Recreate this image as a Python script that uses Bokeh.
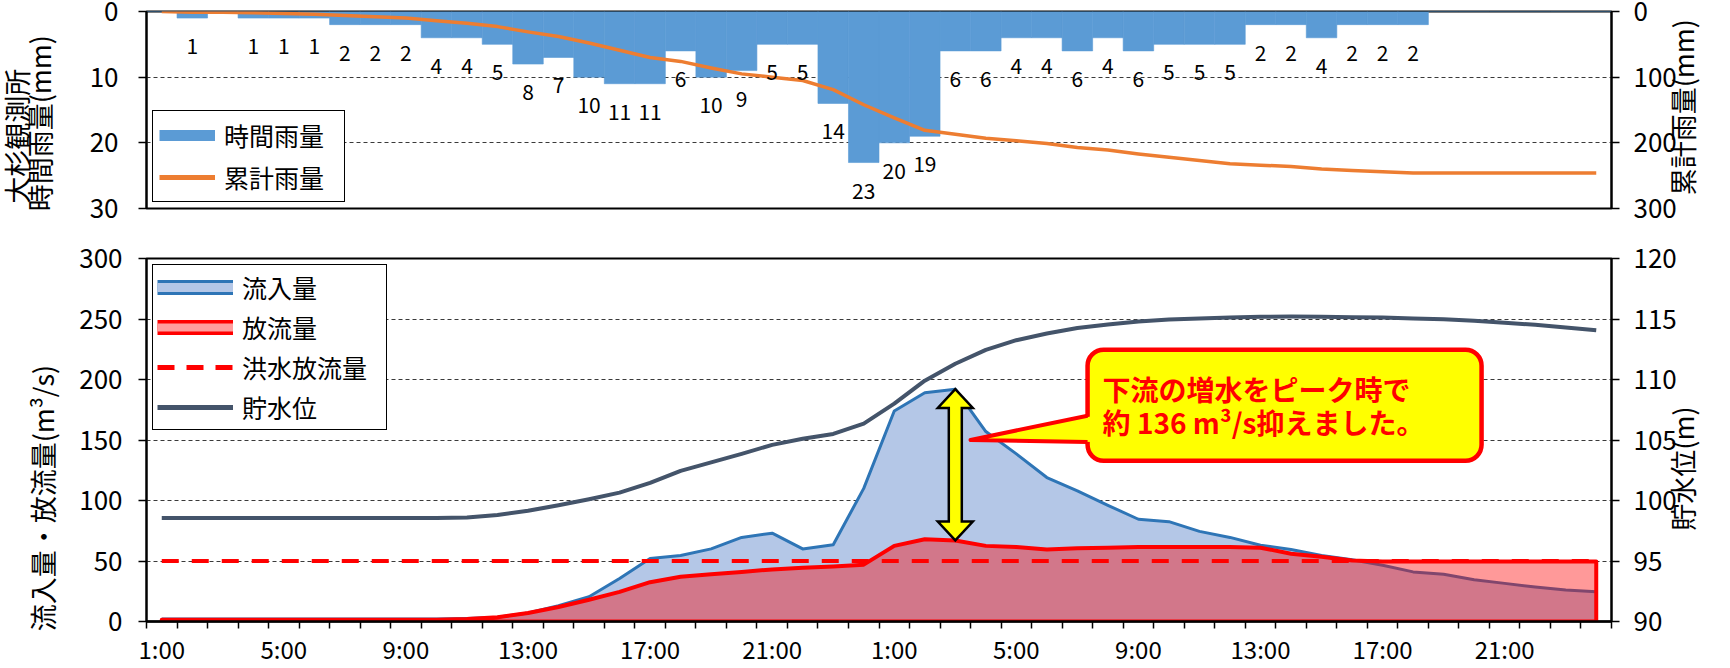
import math
from bokeh.plotting import figure
from bokeh.models import (Range1d, LinearAxis, FixedTicker, ColumnDataSource,
                          LabelSet, Legend, LegendItem, BoxAnnotation, Label)
from bokeh.layouts import column
from bokeh.embed import file_html
from bokeh.resources import INLINE
from bokeh.core.properties import value

FONT = "Noto Sans CJK JP"
NAN = float("nan")

# ---------------- data ----------------
hour_index = list(range(48))          # hourly categories, 1:00 day1 ... 24:00 day2
time_tick_pos = [0, 4, 8, 12, 16, 20, 24, 28, 32, 36, 40, 44]
time_tick_labels = ["1:00", "5:00", "9:00", "13:00", "17:00", "21:00",
                    "1:00", "5:00", "9:00", "13:00", "17:00", "21:00"]

rain_hourly = [0, 1, 0, 1, 1, 1, 2, 2, 2, 4,
               4, 5, 8, 7, 10, 11, 11, 6, 10, 9,
               5, 5, 14, 23, 20, 19, 6, 6, 4, 4,
               6, 4, 6, 5, 5, 5, 2, 2, 4, 2,
               2, 2, 0, 0, 0, 0, 0, 0]
rain_cumulative = [0, 1, 1, 2, 3, 4, 6, 8, 10, 14,
                   18, 23, 31, 38, 48, 59, 70, 76, 86, 95,
                   100, 105, 119, 142, 162, 181, 187, 193, 197, 201,
                   207, 211, 217, 222, 227, 232, 234, 236, 240, 242,
                   244, 246, 246, 246, 246, 246, 246, 246]
inflow = [2, 2, 2, 2, 2, 2, 2, 2, 2, 2,
          2.5, 3.5, 7, 13, 20.5, 35.5, 52, 54.5, 60, 69.5,
          73, 60, 63.5, 110, 174, 189, 192, 157, 138.5, 119,
          108, 96, 84.5, 82.5, 74.5, 69.5, 63, 59.5, 54.5, 51,
          46.5, 41, 39, 34.5, 31.5, 28.5, 26, 24.5]
outflow = [1.5, 1.5, 1.5, 1.5, 1.5, 1.5, 1.5, 1.5, 1.5, 1.5,
           2, 3.5, 7, 12, 18, 24.5, 32.5, 37, 39, 41,
           43, 44.5, 45.5, 47, 62.5, 68, 67, 62.5, 61.5, 59.5,
           60.5, 61, 61.5, 61.5, 61.5, 61.5, 61, 56, 53.5, 50.5,
           49.5, 49.5, 49.5, 49.5, 49.5, 49.5, 49.5, 49.5]
flood_discharge = 50
water_level = [98.55, 98.55, 98.55, 98.55, 98.55, 98.55, 98.55, 98.55, 98.55, 98.55,
               98.6, 98.8, 99.15, 99.6, 100.1, 100.65, 101.45, 102.45, 103.15, 103.85,
               104.6, 105.1, 105.5, 106.35, 108.0, 109.9, 111.3, 112.45, 113.25, 113.8,
               114.25, 114.55, 114.8, 114.95, 115.05, 115.12, 115.18, 115.2, 115.18, 115.15,
               115.12, 115.05, 114.97, 114.85, 114.7, 114.52, 114.3, 114.07]

# axis titles
rain_titles = ["大杉観測所", "時間雨量(mm)"]
cum_title = "累計雨量(mm)"
flow_title = "流入量・放流量(m³/s)"
level_title = "貯水位(m)"

# ---------------- layout constants ----------------
FRAME_W = 1465
PAGE_FRAME_LEFT = 146
BL, BR = 172, 119            # canvas borders; the layout is shifted left so the frame sits at x=146
W = BL + FRAME_W + BR
XPX = FRAME_W / 48.0
H1, H2 = 233, 435
P1_TOP, P1_BOT = 11, 25
P2_TOP, P2_BOT = 25, 44
P2_FH = H2 - P2_TOP - P2_BOT
YPX = P2_FH / 300.0


def style_axis(ax, size="26px", standoff=16):
    ax.axis_line_color = "black"
    ax.axis_line_width = 2
    ax.major_tick_line_color = "black"
    ax.major_tick_line_width = 1.5
    ax.major_tick_out = 8
    ax.major_tick_in = 0
    ax.minor_tick_line_color = None
    ax.major_label_text_font = FONT
    ax.major_label_text_font_size = size
    ax.major_label_text_color = "black"
    ax.major_label_standoff = standoff


def title_axis(p, side, text, pos, standoff, size="27px"):
    """An axis with no line and no ticks whose single label is a rotated title."""
    ax = LinearAxis(ticker=FixedTicker(ticks=[pos]))
    ax.major_label_overrides = {pos: text}
    ax.axis_line_color = None
    ax.major_tick_line_color = None
    ax.minor_tick_line_color = None
    ax.major_tick_out = 0
    ax.major_tick_in = 0
    ax.minor_tick_out = 0
    ax.major_label_standoff = standoff
    ax.major_label_orientation = "vertical" if side == "left" else math.pi / 2
    ax.major_label_text_font = FONT
    ax.major_label_text_font_size = size
    ax.major_label_text_color = "black"
    p.add_layout(ax, side)
    return ax


def style_grid(g):
    g.grid_line_color = "#3a3a3a"
    g.grid_line_dash = "4 3"
    g.grid_line_width = 1


def style_legend(lg, gw, lw):
    lg.label_text_font = FONT
    lg.label_text_font_size = "25px"
    lg.label_text_color = "black"
    lg.glyph_width = gw
    lg.glyph_height = 20
    lg.label_height = 20
    lg.label_width = lw
    lg.label_standoff = 9
    lg.border_line_color = "black"
    lg.border_line_width = 1.5
    lg.border_line_alpha = 1
    lg.background_fill_color = "white"
    lg.background_fill_alpha = 1


# ================= top chart: rainfall =================
p1 = figure(width=W, height=H1, x_range=Range1d(-0.5, 47.5), y_range=Range1d(30, 0),
            x_axis_location=None, output_backend="svg", toolbar_location=None,
            min_border_left=BL, min_border_right=BR, min_border_top=P1_TOP,
            min_border_bottom=P1_BOT,
            background_fill_color="white", border_fill_color="white")
p1.outline_line_color = "black"
p1.outline_line_width = 2
p1.outline_line_alpha = 1
p1.xgrid.visible = False
p1.yaxis.ticker = FixedTicker(ticks=[0, 10, 20, 30])
p1.ygrid.ticker = FixedTicker(ticks=[0, 10, 20, 30])
style_grid(p1.ygrid)
style_axis(p1.yaxis[0], standoff=20)
title_axis(p1, "left", rain_titles[1], 17, 27)
title_axis(p1, "left", rain_titles[0], 19, -19)

p1.extra_y_ranges = {"cum": Range1d(300, 0)}
ax1r = LinearAxis(y_range_name="cum", ticker=FixedTicker(ticks=[0, 100, 200, 300]))
style_axis(ax1r, standoff=14)
p1.add_layout(ax1r, "right")
title_axis(p1, "right", cum_title, 28, 3)

p1.vbar(x=hour_index, top=0, bottom=rain_hourly, width=1.0,
        fill_color="#5B9BD5", line_color="#5B9BD5", line_width=0.6)

lab_x = [i for i, v in zip(hour_index, rain_hourly) if v > 0]
lab_y = [v for v in rain_hourly if v > 0]
lab_t = [str(v) for v in rain_hourly if v > 0]
lab_src = ColumnDataSource(dict(x=lab_x, y=lab_y, t=lab_t))
p1.add_layout(LabelSet(source=lab_src, x="x", y="y", text="t", y_offset=-28,
                       text_align="center", text_baseline="middle",
                       text_font=value(FONT), text_font_size=value("21px"),
                       text_color="black"))

p1.line(hour_index, rain_cumulative, y_range_name="cum", line_color="#ED7D31",
        line_width=3.5, line_join="round")

# legend proxies (a single NaN point: nothing is drawn in the plot)
pr_bar = p1.line(x=[0], y=[NAN], line_color="#5B9BD5", line_width=11)
pr_cum = p1.line(x=[0], y=[NAN], line_color="#ED7D31", line_width=5)
leg1 = Legend(items=[LegendItem(label="時間雨量", renderers=[pr_bar]),
                     LegendItem(label="累計雨量", renderers=[pr_cum])],
              location="bottom_left", margin=6, padding=6, spacing=6)
style_legend(leg1, 56, 114)
p1.add_layout(leg1)

# ================= bottom chart: dam =================
p2 = figure(width=W, height=H2, x_range=Range1d(-0.5, 47.5), y_range=Range1d(0, 300),
            output_backend="svg", toolbar_location=None,
            min_border_left=BL, min_border_right=BR, min_border_top=P2_TOP,
            min_border_bottom=P2_BOT,
            background_fill_color="white", border_fill_color="white")
p2.outline_line_color = "black"
p2.outline_line_width = 2
p2.outline_line_alpha = 1
p2.xgrid.visible = False
q_ticks = [0, 50, 100, 150, 200, 250, 300]
p2.yaxis.ticker = FixedTicker(ticks=q_ticks)
p2.ygrid.ticker = FixedTicker(ticks=q_ticks)
style_grid(p2.ygrid)
style_axis(p2.yaxis[0])
title_axis(p2, "left", flow_title, 102, 14)

xa = p2.xaxis[0]
xa.ticker = FixedTicker(ticks=time_tick_pos, minor_ticks=[k - 0.5 for k in range(49)])
xa.major_label_overrides = {pos: lab for pos, lab in zip(time_tick_pos, time_tick_labels)}
xa.axis_line_color = "black"
xa.axis_line_width = 2.5
xa.major_tick_out = 0
xa.major_tick_in = 0
xa.major_tick_line_color = None
xa.minor_tick_out = 7
xa.minor_tick_in = 0
xa.minor_tick_line_color = "black"
xa.minor_tick_line_width = 1.5
xa.major_label_text_font = FONT
xa.major_label_text_font_size = "24px"
xa.major_label_text_color = "black"
xa.major_label_standoff = 2

p2.extra_y_ranges = {"wl": Range1d(90, 120)}
ax2r = LinearAxis(y_range_name="wl", ticker=FixedTicker(ticks=[90, 95, 100, 105, 110, 115, 120]))
style_axis(ax2r, standoff=14)
p2.add_layout(ax2r, "right")
title_axis(p2, "right", level_title, 75, 3)

# inflow area + line
p2.varea(x=hour_index, y1=0, y2=inflow, fill_color="#B4C7E7", fill_alpha=1)
p2.line(hour_index, inflow, line_color="#2E75B6", line_width=3, line_join="round")
# outflow area (semi transparent red) with outline
p2.patch(x=hour_index + [hour_index[-1], hour_index[0]], y=outflow + [0, 0],
         fill_color="#FF0000", fill_alpha=0.4, line_color="#FF0000", line_width=4,
         line_join="round")
# flood discharge
p2.line([hour_index[0], hour_index[-1]], [flood_discharge, flood_discharge],
        line_color="#FF0000", line_width=4, line_dash="17 13")
# water level
p2.line(hour_index, water_level, y_range_name="wl", line_color="#44546A",
        line_width=4, line_join="round")

# double arrow between peak inflow and outflow
ai = inflow.index(max(inflow))
yt, yb = inflow[ai], outflow[ai]
hw, sw, hl = 17.5 / XPX, 6.5 / XPX, 19 / YPX
arr_x = [ai, ai + hw, ai + sw, ai + sw, ai + hw, ai, ai - hw, ai - sw, ai - sw, ai - hw]
arr_y = [yt, yt - hl, yt - hl, yb + hl, yb + hl, yb, yb + hl, yb + hl, yt - hl, yt - hl]
p2.patch(arr_x, arr_y, fill_color="#FFFF00", line_color="black", line_width=2.5,
         line_join="miter")

# callout
tip_x, tip_y = ai + 0.5, 150
box_l = tip_x + 117 / XPX
box_r = tip_x + 511 / XPX
box_t = tip_y + 91 / YPX
box_b = tip_y - 21 / YPX
w_up = tip_y + 24.5 / YPX
w_lo = tip_y - 2 / YPX
p2.add_layout(BoxAnnotation(left=box_l, right=box_r, top=box_t, bottom=box_b,
                            fill_color="#FFFF00", fill_alpha=1, line_color="#FF0000",
                            line_width=4.5, line_alpha=1, border_radius=16))
p2.patch([tip_x, box_l + 7 / XPX, box_l + 7 / XPX], [tip_y, w_up, w_lo],
         fill_color="#FFFF00", line_color=None, level="overlay")
p2.line([box_l, tip_x, box_l], [w_up, tip_y, w_lo], line_color="#FF0000",
        line_width=4, line_join="round", level="overlay")
for txt, dy in [("下流の増水をピーク時で", 51), ("約 136 m³/s抑えました。", 17.7)]:
    p2.add_layout(Label(x=box_l + 15 / XPX, y=tip_y + dy / YPX, text=txt,
                        text_font=FONT, text_font_style="bold", text_font_size="28px",
                        text_color="#FF0000", text_align="left", text_baseline="middle",
                        level="overlay"))

# legend (proxies hold a single NaN point, so nothing is drawn in the plot)
pr_in1 = p2.line(x=[0], y=[NAN], line_color="#2E75B6", line_width=15)
pr_in2 = p2.line(x=[0], y=[NAN], line_color="#B4C7E7", line_width=9)
pr_out1 = p2.line(x=[0], y=[NAN], line_color="#FF0000", line_width=15)
pr_out2 = p2.line(x=[0], y=[NAN], line_color="#FF9E9E", line_width=8)
pr_fl = p2.line(x=[0], y=[NAN], line_color="#FF0000", line_width=5, line_dash="17 12")
pr_wl = p2.line(x=[0], y=[NAN], line_color="#44546A", line_width=5)
leg2 = Legend(items=[LegendItem(label="流入量", renderers=[pr_in1, pr_in2]),
                     LegendItem(label="放流量", renderers=[pr_out1, pr_out2]),
                     LegendItem(label="洪水放流量", renderers=[pr_fl]),
                     LegendItem(label="貯水位", renderers=[pr_wl])],
              location="top_left", margin=6, padding=4, spacing=4)
style_legend(leg2, 76, 140)
p2.add_layout(leg2)

layout = column(p1, p2, styles={"margin-left": "-%dpx" % (BL - PAGE_FRAME_LEFT)})
open("out.html", "w").write(file_html(layout, INLINE))
